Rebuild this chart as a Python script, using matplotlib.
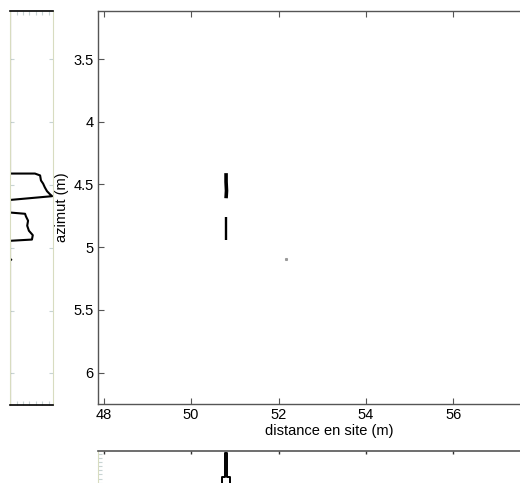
import matplotlib
matplotlib.use("Agg")
import matplotlib.pyplot as plt

plt.rcParams['font.family'] = ['Liberation Sans', 'DejaVu Sans']

# main image: detected points (distance en site, azimut)
seg1_x = [50.80, 50.80, 50.81, 50.80]
seg1_y = [4.41, 4.48, 4.55, 4.61]
seg2_x = [50.80, 50.80]
seg2_y = [4.76, 4.94]
dot_x = [52.18]
dot_y = [5.095]

# azimut profile (left panel)
prof_az = [3.12, 4.41, 4.41, 4.425, 4.465, 4.49, 4.52, 4.55, 4.575, 4.59, 4.62,
           4.72, 4.73, 4.75, 4.785, 4.825, 4.865, 4.90, 4.935, 4.945, 5.09, 5.095, 5.10, 6.25]
prof_val = [0.0, 0.0, 0.58, 0.70, 0.72, 0.77, 0.81, 0.86, 0.93, 0.98, 0.0,
            0.0, 0.35, 0.37, 0.42, 0.40, 0.44, 0.53, 0.51, 0.0, 0.0, 0.03, 0.0, 0.0]

# distance profile (bottom panel)
dist_x = [47.87, 50.70, 50.70, 50.77, 50.77, 50.83, 50.83, 50.90, 50.90, 58.5]
dist_val = [0.0, 0.0, 0.62, 0.62, 0.97, 0.97, 0.62, 0.62, 0.0, 0.0]

xticks = [48, 50, 52, 54, 56]
yticks = [3.5, 4, 4.5, 5, 5.5, 6]
xlim = (47.87, 58.44)
ylim = (6.251, 3.117)

W, H = 520, 483
fig = plt.figure(figsize=(5.2, 4.83), dpi=100)

def px(x0, y0, x1, y1):
    return [x0 / W, 1 - y1 / H, (x1 - x0) / W, (y1 - y0) / H]

# main axes
ax = fig.add_axes(px(98, 11, 560, 404))
ax.plot(seg1_x, seg1_y, color='black', lw=2.6, solid_capstyle='butt')
ax.plot(seg2_x, seg2_y, color='black', lw=1.7, solid_capstyle='butt')
ax.plot(dot_x, dot_y, 's', color='#999999', ms=1.2)
ax.set_xlim(xlim)
ax.set_ylim(ylim)
ax.set_xticks(xticks)
ax.set_yticks(yticks)
ax.set_xticklabels([str(v) for v in xticks])
ax.set_yticklabels(['3.5', '4', '4.5', '5', '5.5', '6'])
ax.tick_params(direction='in', length=4, width=0.8, color='#555555',
               top=True, labelsize=10.5, pad=3)
for s in ax.spines.values():
    s.set_color('#555555')
    s.set_linewidth(1.0)
ax.set_xlabel('distance en site (m)', fontsize=10.5, labelpad=1)
ax.set_ylabel('azimut (m)', fontsize=10.5, labelpad=3)

# left profile
axl = fig.add_axes(px(10, 11, 53, 405))
axl.plot(prof_val, prof_az, color='black', lw=1.5)
axl.set_xlim(0, 1)
axl.set_ylim(ylim)
axl.set_xticks([0.16, 0.30, 0.44, 0.60, 0.74, 0.90])
axl.set_yticks(yticks)
axl.set_xticklabels([])
axl.set_yticklabels([])
axl.tick_params(direction='in', length=3, width=0.8, color='#c8d4d4',
                top=True, right=True)
for k in ['left', 'right']:
    axl.spines[k].set_color('#d8dcc0')
    axl.spines[k].set_linewidth(0.8)
for k in ['top', 'bottom']:
    axl.spines[k].set_color('black')
    axl.spines[k].set_linewidth(1.2)

# bottom profile
axb = fig.add_axes(px(98, 451, 560, 520))
axb.plot(dist_x, dist_val, color='black', lw=1.4)
axb.set_xlim(xlim)
axb.set_ylim(0, 1)
axb.set_xticks(xticks)
axb.set_yticks([0.06, 0.12, 0.18, 0.24, 0.30, 0.36, 0.42, 0.48, 0.54, 0.60, 0.66, 0.72, 0.78, 0.84, 0.90, 0.96])
axb.set_xticklabels([])
axb.set_yticklabels([])
axb.tick_params(axis='y', direction='in', length=3, width=0.8, color='#c8d4d4')
axb.tick_params(axis='x', direction='in', length=2, width=1.0, color='#333333',
                top=True, bottom=False)
axb.spines['top'].set_color('#555555')
axb.spines['top'].set_linewidth(1.2)
axb.spines['left'].set_color('#d8dcc0')
axb.spines['left'].set_linewidth(0.8)
axb.spines['right'].set_visible(False)
axb.spines['bottom'].set_visible(False)

fig.savefig('out.png', dpi=100)
